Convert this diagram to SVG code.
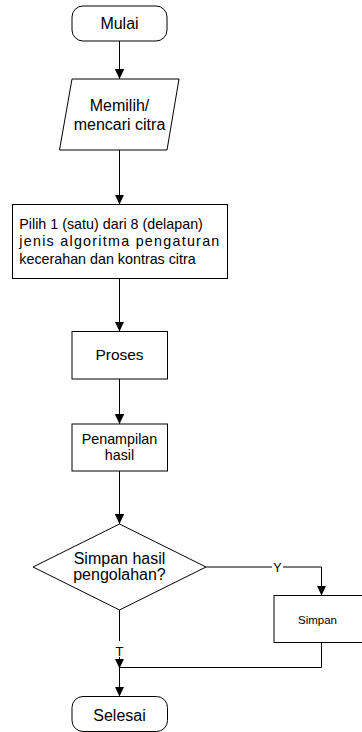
<svg xmlns="http://www.w3.org/2000/svg" width="362" height="732" viewBox="0 0 362 732">
<style>
.s{fill:#fff;stroke:#000;stroke-width:1}
.c{fill:none;stroke:#000;stroke-width:1}
text{font-family:"Liberation Sans",Arial,Helvetica,sans-serif;fill:#000}
.m{text-anchor:middle}
</style>
<defs>
<marker id="ah" markerUnits="userSpaceOnUse" markerWidth="10" markerHeight="10" refX="10" refY="4.7" orient="auto">
<path d="M0,0 L10,4.7 L0,9.4 z" fill="#000"/>
</marker>
</defs>
<rect width="362" height="732" fill="#fff"/>
<g id="connectors">
<path class="c" d="M119.5,41 V79" marker-end="url(#ah)"/>
<path class="c" d="M119.5,150 V204.5" marker-end="url(#ah)"/>
<path class="c" d="M119.5,278.5 V331.5" marker-end="url(#ah)"/>
<path class="c" d="M119.5,379 V424" marker-end="url(#ah)"/>
<path class="c" d="M119.5,471 V524" marker-end="url(#ah)"/>
<path class="c" d="M206,567 H321.5 V595.5" marker-end="url(#ah)"/>
<path class="c" d="M321.5,642.5 V667.5 H119.5"/>
<path class="c" d="M119.5,610 V668.5" marker-end="url(#ah)"/>
<path class="c" d="M119.5,667.5 V696.5" marker-end="url(#ah)"/>
<rect x="272" y="560" width="11" height="13" fill="#fff"/>
<text x="277.5" y="571.5" class="m" font-size="12.5">Y</text>
<rect x="114" y="641" width="11" height="16" fill="#fff"/>
<text x="119.5" y="656" class="m" font-size="13">T</text>
</g>
<g id="mulai">
<rect class="s" x="72" y="6" width="95" height="35" rx="11" ry="11"/>
<text x="119.5" y="29" class="m" font-size="16">Mulai</text>
</g>
<g id="memilih">
<polygon class="s" points="72,79 179,79 167,150 59.5,150"/>
<text x="119.5" y="111" class="m" font-size="16">Memilih/</text>
<text x="119.5" y="129.5" class="m" font-size="16">mencari citra</text>
</g>
<g id="pilih">
<rect class="s" x="12.5" y="204.5" width="215" height="74"/>
<text x="19.3" y="229.3" font-size="14.3">Pilih 1 (satu) dari 8 (delapan)</text>
<text x="19.3" y="246.3" font-size="14.3" textLength="200" lengthAdjust="spacing">jenis algoritma pengaturan</text>
<text x="19.3" y="264" font-size="14.3">kecerahan dan kontras citra</text>
</g>
<g id="proses">
<rect class="s" x="72" y="331.5" width="95.5" height="47.5"/>
<text x="119.5" y="359.5" class="m" font-size="15.5">Proses</text>
</g>
<g id="penampilan">
<rect class="s" x="72" y="424" width="95.5" height="47"/>
<text x="119.5" y="443.5" class="m" font-size="14.3">Penampilan</text>
<text x="119.5" y="459.5" class="m" font-size="14.3">hasil</text>
</g>
<g id="keputusan">
<polygon class="s" points="119.5,524 206,567 119.5,610 33,567"/>
<text x="119.5" y="563.5" class="m" font-size="16">Simpan hasil</text>
<text x="119.5" y="580" class="m" font-size="16">pengolahan?</text>
</g>
<g id="simpan">
<rect class="s" x="274" y="595.5" width="96" height="47"/>
<text x="317.5" y="623.5" class="m" font-size="11.5">Simpan</text>
</g>
<g id="selesai">
<rect class="s" x="72" y="696.5" width="95.5" height="35" rx="11" ry="11"/>
<text x="119.5" y="720.5" class="m" font-size="16">Selesai</text>
</g>
</svg>
